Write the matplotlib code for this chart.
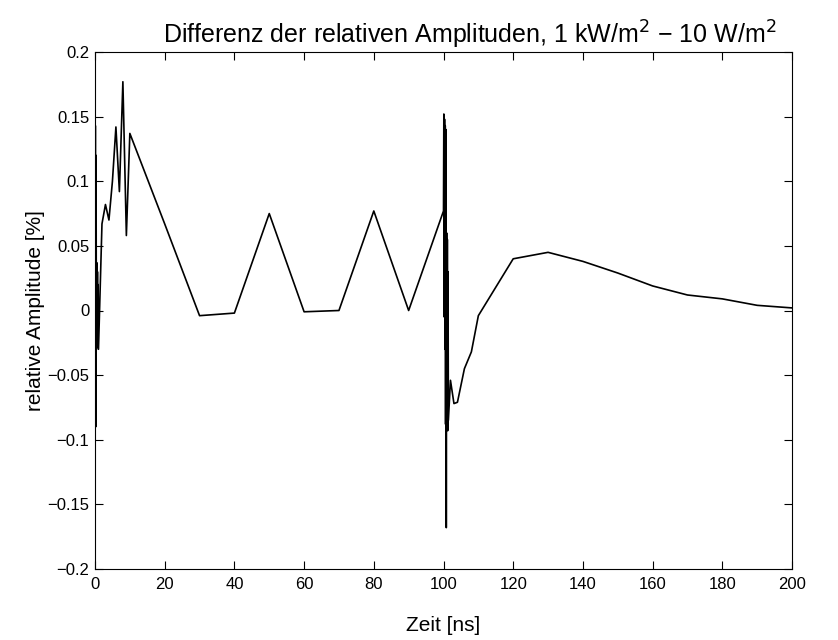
import numpy as np
import matplotlib
matplotlib.use('Agg')
import matplotlib.pyplot as plt

plt.rcParams['font.family'] = ['Liberation Sans', 'DejaVu Sans']

# time axis [ns] and amplitude difference [%]
t_start = [0.0, 0.1, 0.2, 0.3, 0.4, 0.5, 0.6, 0.7, 0.8, 0.9, 1.0]
d_start = [0.0, 0.143, -0.09, 0.12, -0.03, 0.037, -0.028, 0.03, -0.02, 0.02, -0.03]

t_early = [2, 3, 4, 5, 6, 7, 8, 9, 10, 20, 30, 40, 50, 60, 70, 80, 90]
d_early = [0.067, 0.082, 0.07, 0.10, 0.142, 0.092, 0.177, 0.058, 0.137,
           0.067, -0.004, -0.002, 0.075, -0.001, 0.0, 0.077, 0.0]

t_pulse = [100.0, 100.1, 100.2, 100.3, 100.4, 100.5, 100.6, 100.7, 100.8,
           100.9, 101.0, 101.1, 101.2, 101.3, 101.4]
d_pulse = [0.077, 0.152, -0.005, 0.148, -0.03, 0.143, -0.088, 0.14, -0.168,
           0.06, -0.09, 0.055, -0.093, 0.03, -0.085]

t_late = [102, 103, 104, 106, 108, 110, 120, 130, 140, 150, 160, 170, 180, 190, 200]
d_late = [-0.054, -0.072, -0.071, -0.045, -0.032, -0.004, 0.04, 0.045, 0.038,
          0.029, 0.019, 0.012, 0.009, 0.004, 0.002]

t = np.concatenate([t_start, t_early, t_pulse, t_late])
d = np.concatenate([d_start, d_early, d_pulse, d_late])

fig = plt.figure(figsize=(8.38, 6.4), dpi=100)
ax = fig.add_axes([95/838, 1 - 569/640, (792 - 95)/838, (569 - 52)/640])

ax.plot(t, d, color='black', linewidth=1.2)

ax.set_xlim(0, 200)
ax.set_ylim(-0.2, 0.2)
ax.set_xticks(np.arange(0, 201, 20))
ax.set_yticks([-0.2, -0.15, -0.1, -0.05, 0, 0.05, 0.1, 0.15, 0.2])
ax.set_yticklabels(['\u22120.2', '\u22120.15', '\u22120.1', '\u22120.05', '0',
                    '0.05', '0.1', '0.15', '0.2'])
ax.tick_params(direction='in', top=True, right=True, length=6, width=0.8,
               labelsize=12)
ax.tick_params(axis='x', pad=6)
ax.tick_params(axis='y', pad=4)
for s in ax.spines.values():
    s.set_linewidth(0.8)

ax.set_xlabel('Zeit [ns]', fontsize=15, labelpad=17)
ax.set_ylabel('relative Amplitude [%]', fontsize=15, labelpad=2)
fig.text(470/838, 1 - 35/640,
         'Differenz der relativen Amplituden, 1 kW/m$^2$ \u2212 10 W/m$^2$',
         fontsize=18, ha='center', va='center')

fig.savefig('out.png', dpi=100)
